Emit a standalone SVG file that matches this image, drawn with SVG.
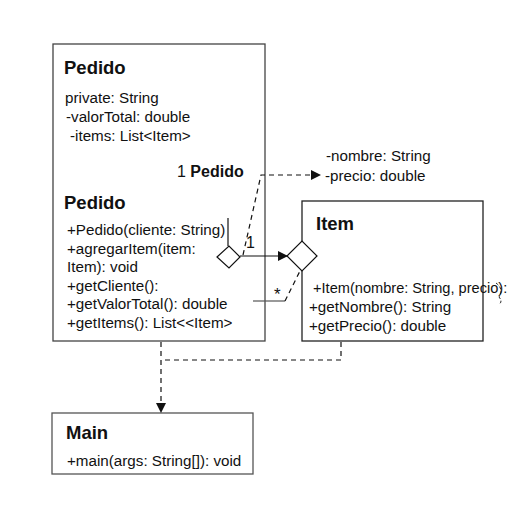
<svg xmlns="http://www.w3.org/2000/svg" width="512" height="512" viewBox="0 0 512 512">
<defs>
<style>
text{font-family:"Liberation Sans",Arial,sans-serif;fill:#111}
.t{font-size:18.5px;font-weight:bold}
.m{font-size:15.2px}
.box{fill:#fff;stroke:#444;stroke-width:1.3}
.ln{fill:none;stroke:#111;stroke-width:1.2}
.dash{fill:none;stroke:#111;stroke-width:1.2;stroke-dasharray:5,4}
.dia{fill:#fff;stroke:#111;stroke-width:1.2}
</style>
<marker id="ah" viewBox="0 0 10 10" refX="10" refY="5" markerWidth="10" markerHeight="10" markerUnits="userSpaceOnUse" orient="auto">
<path d="M0,0 L10,5 L0,10 Z" fill="#111"/>
</marker>
</defs>
<rect width="512" height="512" fill="#fff"/>
<g id="Pedido">
<rect class="box" x="53" y="44" width="212" height="297"/>
<text class="t" x="64" y="74">Pedido</text>
<text class="m" x="65" y="103">private: String</text>
<text class="m" x="66" y="122">-valorTotal: double</text>
<text class="m" x="70" y="141">-items: List&lt;Item&gt;</text>
<text class="m" x="177" y="177" style="font-size:16px">1 <tspan font-weight="bold">Pedido</tspan></text>
<text class="t" x="64" y="209">Pedido</text>
<text class="m" x="67" y="235">+Pedido(cliente: String)</text>
<text class="m" x="67" y="254">+agregarItem(item:</text>
<text class="m" x="67" y="272">Item): void</text>
<text class="m" x="67" y="291">+getCliente():</text>
<text class="m" x="67" y="309">+getValorTotal(): double</text>
<text class="m" x="67" y="328">+getItems(): List&lt;&lt;Item&gt;</text>
</g>
<g id="Item">
<rect class="box" x="302" y="201" width="181" height="140" style="stroke:#222"/>
<text class="t" x="316" y="230">Item</text>
<text class="m" x="313" y="293" style="font-size:14.6px">+Item(nombre: String, precio):</text>
<text class="m" x="309" y="312">+getNombre(): String</text>
<text class="m" x="309" y="331">+getPrecio(): double</text>
<text class="m" x="326" y="161">-nombre: String</text>
<text class="m" x="325" y="181">-precio: double</text>
</g>
<g id="Main">
<rect class="box" x="52" y="413" width="201" height="61" style="stroke:#555"/>
<text class="t" x="66" y="439">Main</text>
<text class="m" x="67" y="466">+main(args: String[]): void</text>
</g>
<g id="connectors">
<line class="ln" x1="228" y1="218" x2="228" y2="246"/>
<path class="dash" d="M243,255 L261,175 L321,175" marker-end="url(#ah)"/>
<line class="ln" x1="240" y1="256" x2="288" y2="256" marker-end="url(#ah)"/>
<path class="dia" d="M217,257 L229,246 L240,257 L229,268 Z"/>
<path class="dia" d="M287,256 L302,241 L317,256 L302,271 Z"/>
<text class="m" x="246" y="248" style="font-size:16px">1</text>
<line class="ln" x1="253" y1="301" x2="285" y2="301" style="stroke:#555"/>
<line class="dash" x1="285" y1="301" x2="300" y2="271"/>
<text class="m" x="274" y="300" style="font-size:17px">*</text>
<path class="dash" d="M341,342 L341,360 L161,360"/>
<path class="dash" d="M161,342 L161,413" marker-end="url(#ah)"/>
<path class="dash" d="M496,283 Q504,289 499,297 Q503,302 499,304" style="stroke-dasharray:3,2;stroke-width:0.9"/>
</g>
</svg>
